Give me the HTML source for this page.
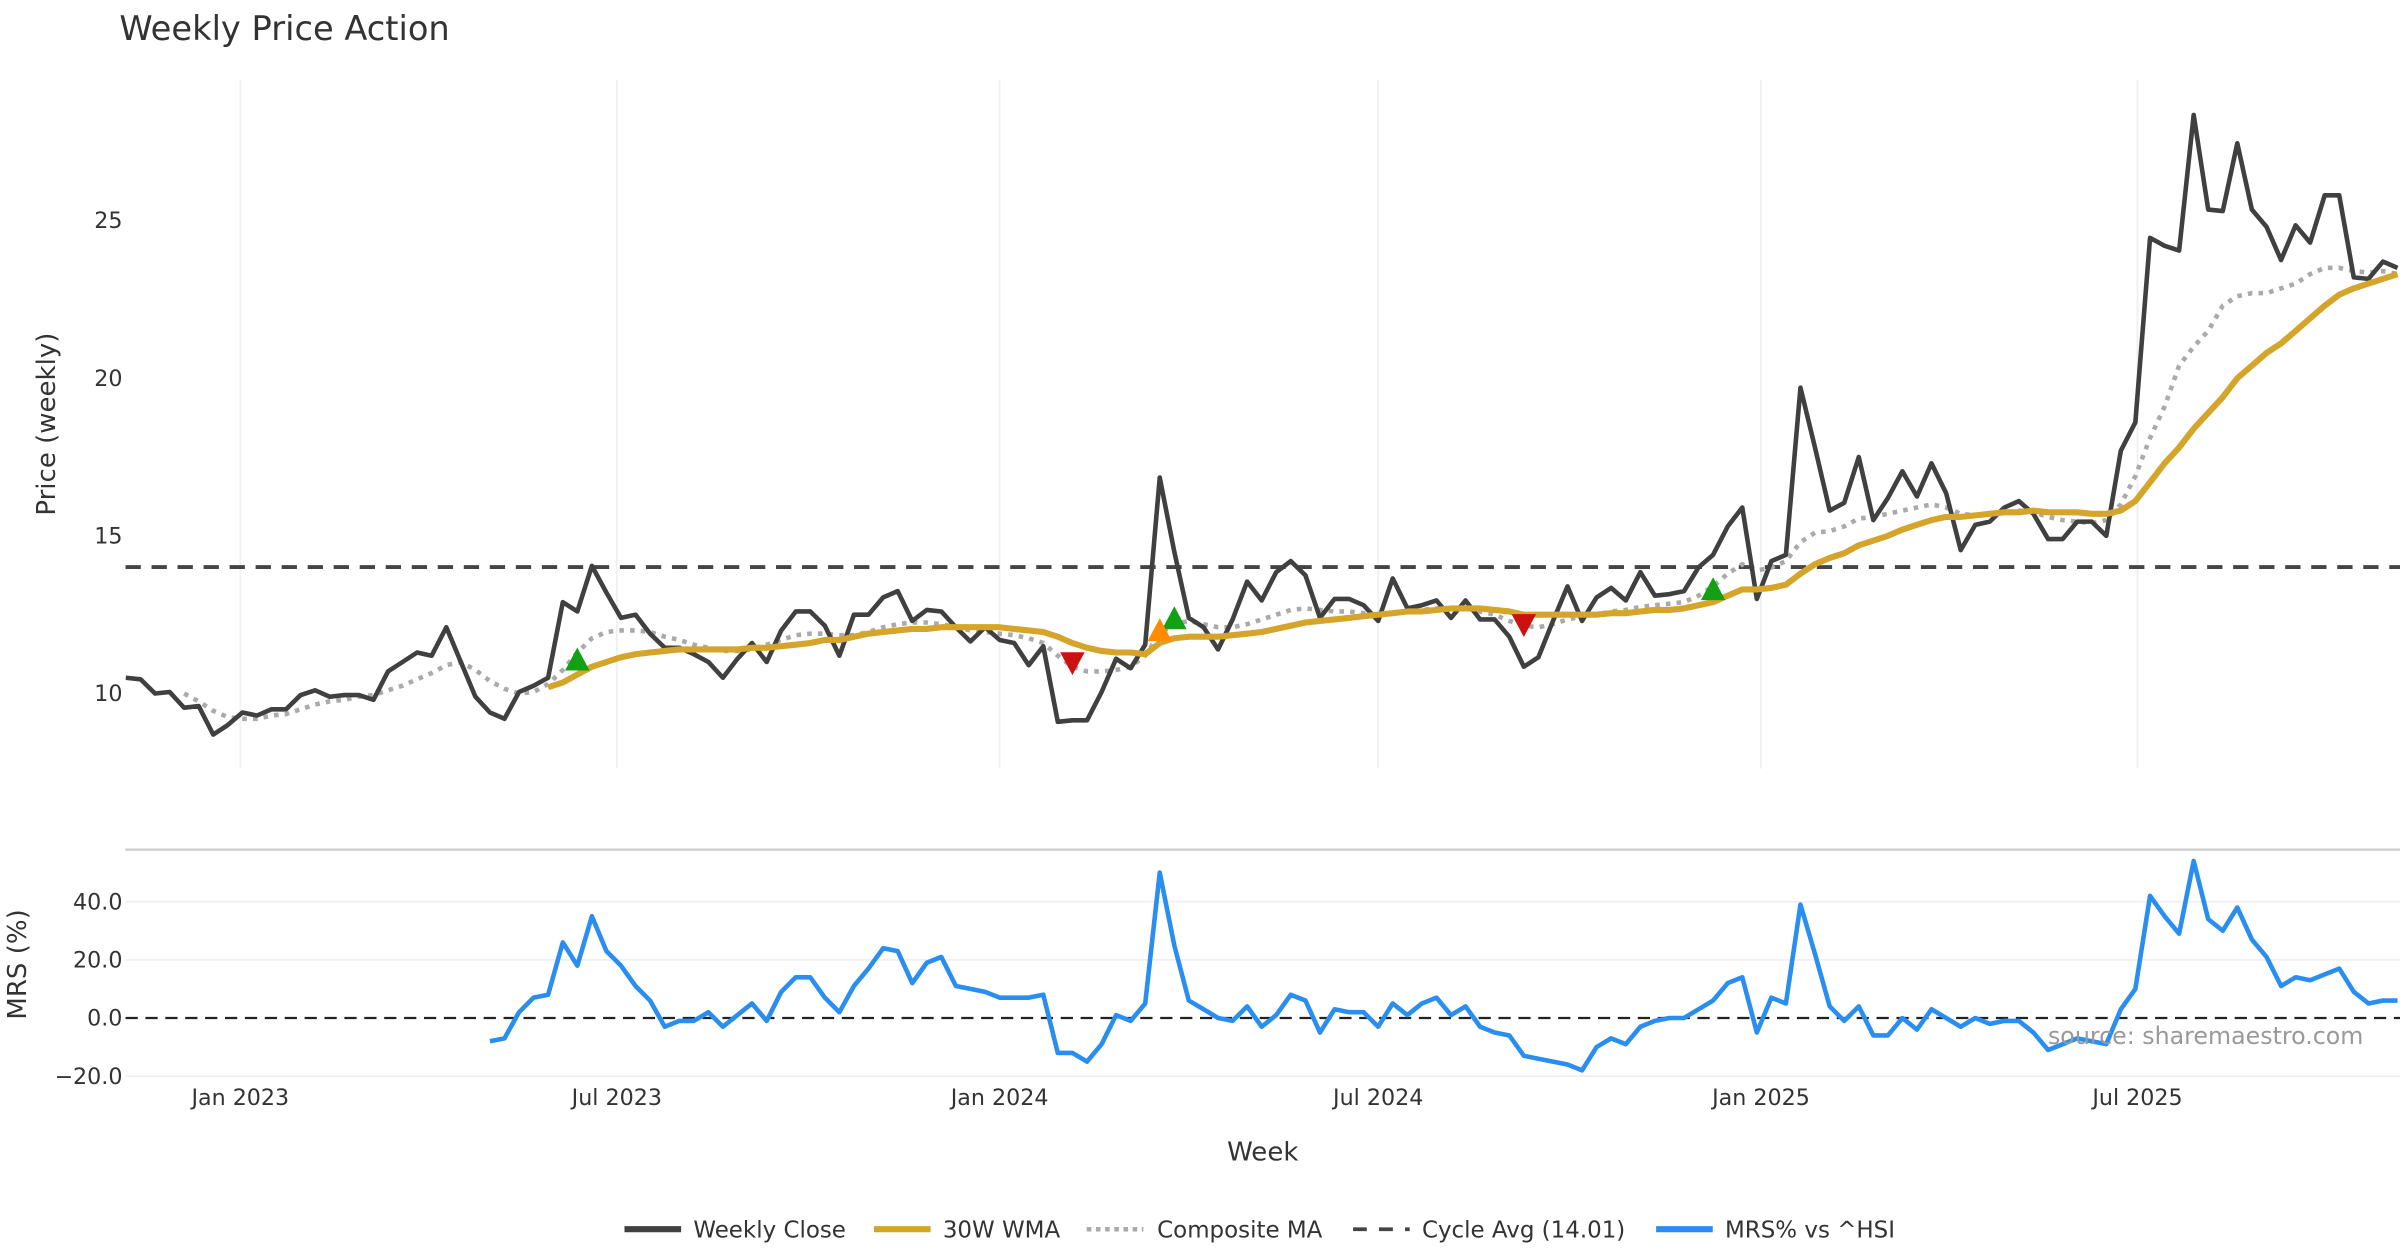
<!DOCTYPE html>
<html><head><meta charset="utf-8"><title>Weekly Price Action</title>
<style>
html,body{margin:0;padding:0;background:#fff;}
svg{display:block;font-family:"DejaVu Sans","Liberation Sans",sans-serif;}
</style></head>
<body>
<svg id="chart" width="2400" height="1260" viewBox="0 0 1568 823" xmlns="http://www.w3.org/2000/svg">
<rect width="1568" height="823" fill="#fff"/>
<text x="78" y="26" font-size="22" fill="#333">Weekly Price Action</text>
<g id="grid"></g>
<g id="series"></g>
<g id="axes"></g>
<text transform="translate(36,277) rotate(-90)" text-anchor="middle" font-size="17" fill="#333">Price (weekly)</text>
<text transform="translate(17,630) rotate(-90)" text-anchor="middle" font-size="17" fill="#333">MRS (%)</text>
<text x="825" y="758" text-anchor="middle" font-size="17" fill="#333">Week</text>
<text x="1338" y="682" font-size="15.5" fill="#999">source: sharemaestro.com</text>
<g id="legend">
 <g><line x1="408" y1="803" x2="445" y2="803" stroke="#404040" stroke-width="4"/><text x="453" y="808.5" font-size="15" fill="#333">Weekly Close</text></g>
 <g><line x1="571" y1="803" x2="608" y2="803" stroke="#d4a52a" stroke-width="4"/><text x="616" y="808.5" font-size="15" fill="#333">30W WMA</text></g>
 <g><line x1="710" y1="803" x2="747" y2="803" stroke="#aaa" stroke-width="3" stroke-dasharray="3,3"/><text x="756" y="808.5" font-size="15" fill="#333">Composite MA</text></g>
 <g><line x1="884" y1="803" x2="921" y2="803" stroke="#444" stroke-width="2.5" stroke-dasharray="9,8"/><text x="929" y="808.5" font-size="15" fill="#333">Cycle Avg (14.01)</text></g>
 <g><line x1="1082" y1="803" x2="1119" y2="803" stroke="#2a8ef0" stroke-width="4"/><text x="1127" y="808.5" font-size="15" fill="#333">MRS% vs ^HSI</text></g>
</g>
</svg>
<script>
const closeValues = [10.5,10.45,10.0,10.05,9.55,9.6,8.7,9.0,9.4,9.3,9.5,9.5,9.95,10.1,9.9,9.95,9.95,9.8,10.7,11.0,11.3,11.2,12.1,11.0,9.9,9.4,9.2,10.05,10.25,10.5,
12.9,12.6,14.05,13.2,12.4,12.5,11.9,11.45,11.45,11.25,11.0,10.5,11.1,11.6,11.0,12.0,12.6,12.6,12.15,11.2,12.5,12.5,13.05,13.25,12.3,12.65,12.6,12.1,11.65,12.1,11.7,11.6,10.9,11.5,9.1,9.15,9.15,10.05,11.1,10.8,11.55,16.85,14.5,12.4,12.1,11.4,12.35,13.55,12.95,13.85,14.2,13.75,12.4,13.0,13.0,12.8,12.3,13.65,12.7,12.8,12.95,12.4,12.95,12.35,12.35,11.8,10.85,11.15,12.3,13.4,12.3,13.05,13.35,12.95,13.85,13.1,13.15,13.25,14.0,14.4,15.3,15.9,13.0,14.2,14.4,19.7,17.8,15.8,16.05,17.5,15.5,16.2,17.05,16.25,17.3,16.35,14.55,15.35,15.45,15.9,16.1,15.7,14.9,14.9,15.45,15.45,15.0,17.7,18.6,24.45,24.2,24.05,28.35,25.35,25.3,27.45,25.35,24.8,23.75,24.85,24.3,25.8,25.8,23.2,23.15,23.7,23.5];
const wmaValues = [10.2,10.35,10.6,10.85,11.0,11.15,11.25,11.3,11.35,11.4,11.4,11.4,11.4,11.4,11.45,11.45,11.5,11.55,11.6,11.7,11.7,11.8,11.9,11.95,12.0,12.05,12.05,12.1,12.1,12.1,12.1,12.1,12.05,12.0,11.95,11.8,11.6,11.45,11.35,11.3,11.3,11.25,11.6,11.75,11.8,11.8,11.8,11.85,11.9,11.95,12.05,12.15,12.25,12.3,12.35,12.4,12.45,12.5,12.55,12.6,12.6,12.65,12.7,12.7,12.7,12.65,12.6,12.5,12.5,12.5,12.5,12.5,12.5,12.55,12.55,12.6,12.65,12.65,12.7,12.8,12.9,13.1,13.3,13.3,13.35,13.45,13.8,14.1,14.3,14.45,14.7,14.85,15.0,15.2,15.35,15.5,15.6,15.6,15.65,15.7,15.75,15.75,15.8,15.75,15.75,15.75,15.7,15.7,15.8,16.1,16.7,17.3,17.8,18.4,18.9,19.4,20.0,20.4,20.8,21.1,21.5,21.9,22.3,22.65,22.85,23.0,23.15,23.3];
const compositeValues = [10.0,9.75,9.45,9.25,9.2,9.2,9.3,9.35,9.5,9.65,9.75,9.8,9.9,9.95,10.1,10.25,10.45,10.65,10.9,11.0,10.75,10.4,10.15,10.0,10.05,10.3,10.75,11.3,11.75,11.95,12.0,12.0,11.95,11.8,11.7,11.55,11.45,11.35,11.35,11.4,11.55,11.7,11.85,11.9,11.9,11.85,11.85,11.95,12.1,12.2,12.25,12.25,12.2,12.1,12.0,11.95,11.9,11.85,11.75,11.6,11.2,10.85,10.7,10.7,10.75,10.85,11.2,11.9,12.2,12.3,12.2,12.1,12.1,12.2,12.35,12.5,12.65,12.7,12.65,12.6,12.6,12.55,12.5,12.55,12.6,12.65,12.7,12.7,12.7,12.6,12.5,12.3,12.15,12.1,12.2,12.35,12.45,12.5,12.6,12.65,12.75,12.8,12.85,12.9,13.1,13.4,13.8,14.1,13.9,14.0,14.2,14.8,15.1,15.15,15.3,15.55,15.6,15.7,15.8,15.9,16.0,15.9,15.7,15.65,15.7,15.75,15.8,15.75,15.6,15.5,15.45,15.4,15.5,16.0,16.9,18.1,19.1,20.4,21.0,21.5,22.3,22.6,22.7,22.7,22.85,23.0,23.3,23.5,23.5,23.4,23.35,23.4,23.3];
const mrsValues = [-8,-7,2,7,8,26,18,35,23,18,11,6,-3,-1,-1,2,-3,1,5,-1,9,14,14,7,2,11,17,24,23,12,19,21,11,10,9,7,7,7,8,-12,-12,-15,-9,1,-1,5,50,25,6,3,0,-1,4,-3,1,8,6,-5,3,2,2,-3,5,1,5,7,1,4,-3,-5,-6,-13,-14,-15,-16,-18,-10,-7,-9,-3,-1,0,0,3,6,12,14,-5,7,5,39,22,4,-1,4,-6,-6,0,-4,3,0,-3,0,-2,-1,-1,-5,-11,-9,-7,-8,-9,3,10,42,35,29,54,34,30,38,27,21,11,14,13,15,17,9,5,6,6];
const cycleAvg = 14.01;
const signalIndex = [31,72,109,71,65,96];
const signalValue = [11.07,12.38,13.3,12.0,10.97,12.18];
const signalType = ['buy','buy','buy','warn','sell','sell'];
const priceTicks = [10,15,20,25];
const mrsTicks = [-20,0,20,40];
const mrsTickLabels = ['\u221220.0','0.0','20.0','40.0'];
const dateTicks = ['2023-01-01','2023-07-01','2024-01-01','2024-07-01','2025-01-01','2025-07-01'];
const dateTickLabels = ['Jan 2023','Jul 2023','Jan 2024','Jul 2024','Jan 2025','Jul 2025'];
const startDate = '2022-11-07';

const NS='http://www.w3.org/2000/svg';
const N = closeValues.length;
const DAY=86400000;
const t0 = Date.parse('2023-01-01');
function xDate(ms){return 157 + (ms - t0)/DAY*1.3591;}
function xIdx(i){return xDate(Date.parse(startDate) + i*7*DAY);}
function yP(v){return 453 - (v-10)*20.6;}
function yM(v){return 665 - v*1.9;}
function mk(tag, attrs, parent){const e=document.createElementNS(NS,tag);for(const k in attrs)e.setAttribute(k,attrs[k]);parent.appendChild(e);return e;}
const grid=document.getElementById('grid'), ser=document.getElementById('series'), axes=document.getElementById('axes');

dateTicks.forEach((d,k)=>{
  const x=xDate(Date.parse(d));
  const g=mk('line',{x1:x,y1:52,x2:x,y2:502,stroke:'#eef0f3','stroke-width':1.2},grid);
  
  
  const t=mk('text',{x:x,y:722,'text-anchor':'middle','font-size':14.5,fill:'#333'},axes);
  t.textContent=dateTickLabels[k];
  
  
});
priceTicks.forEach(v=>{
  const t=mk('text',{x:80,y:yP(v)+5,'text-anchor':'end','font-size':14.5,fill:'#333'},axes);
  t.textContent=v;
  
  
});
mrsTicks.forEach((v,k)=>{
  if(v!==0){const g=mk('line',{x1:82,y1:yM(v),x2:1568,y2:yM(v),stroke:'#eceef2','stroke-width':1},grid);
  
  }
  const t=mk('text',{x:80,y:yM(v)+5,'text-anchor':'end','font-size':14.5,fill:'#333'},axes);
  t.textContent=mrsTickLabels[k];
  
  
});
const sep=mk('line',{x1:82,y1:555,x2:1568,y2:555,stroke:'#ccc','stroke-width':1.5},grid);



function path(arr, yf){
  const off=N-arr.length; let d='';
  arr.forEach((v,i)=>{d+=(i?'L':'M')+xIdx(i+off).toFixed(1)+','+yf(v).toFixed(1);});
  return d;
}
const cyc=mk('line',{x1:82,y1:yP(cycleAvg),x2:1568,y2:yP(cycleAvg),stroke:'#444','stroke-width':2.5,'stroke-dasharray':'10,7'},ser);


const comp=mk('path',{d:path(compositeValues,yP),fill:'none',stroke:'#aaa','stroke-width':3,'stroke-dasharray':'3,4'},ser);


const cl=mk('path',{d:path(closeValues,yP),fill:'none',stroke:'#404040','stroke-width':3,'stroke-linejoin':'round'},ser);


const wm=mk('path',{d:path(wmaValues,yP),fill:'none',stroke:'#d4a52a','stroke-width':4,'stroke-linejoin':'round'},ser);


const colors={buy:'#14a014',warn:'#ff8c00',sell:'#cc1111'};
signalIndex.forEach((idx,k)=>{
  const x=xIdx(idx), y=yP(signalValue[k]), s=8, up=signalType[k]!=='sell';
  const pts = up ? `${x-s},${y+7} ${x+s},${y+7} ${x},${y-8}` : `${x-s},${y-7} ${x+s},${y-7} ${x},${y+8}`;
  const p=mk('polygon',{points:pts,fill:colors[signalType[k]]},ser);
  
  
});
const z=mk('line',{x1:82,y1:yM(0),x2:1568,y2:yM(0),stroke:'#222','stroke-width':1.5,'stroke-dasharray':'8,5'},ser);


const mr=mk('path',{d:path(mrsValues,yM),fill:'none',stroke:'#2a8ef0','stroke-width':3,'stroke-linejoin':'round'},ser);


</script>
</body></html>
